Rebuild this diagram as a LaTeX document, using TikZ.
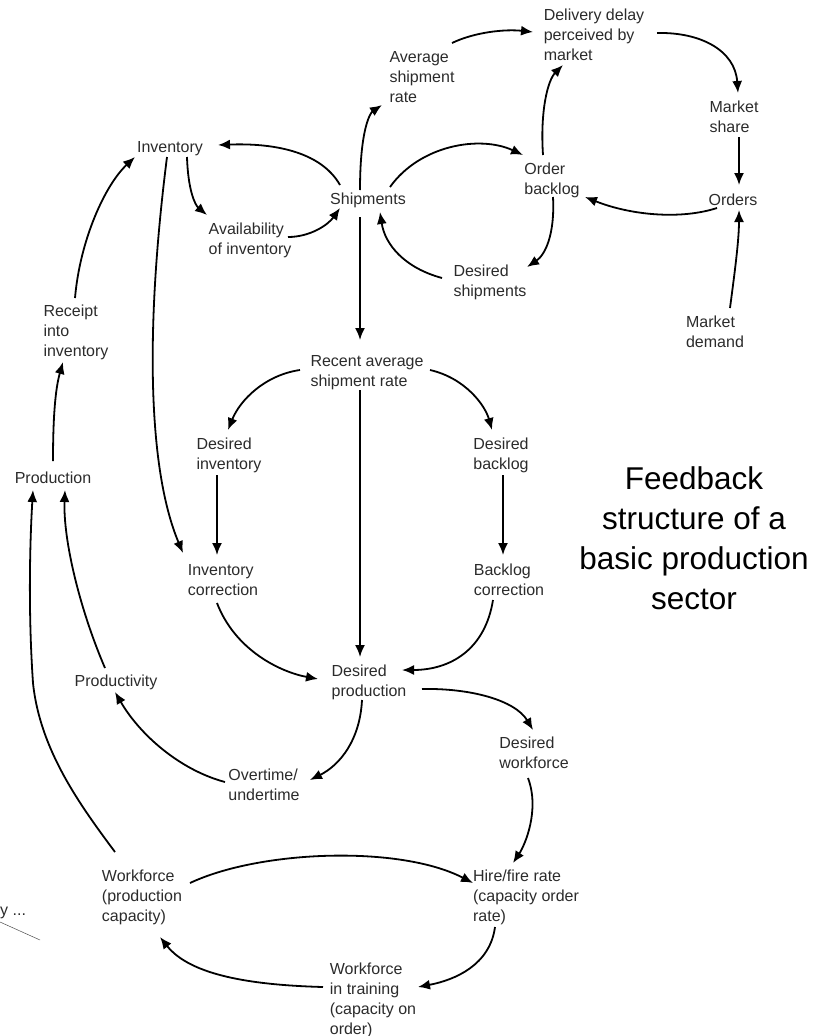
\documentclass[tikz,border=0pt]{standalone}
\usepackage{fontspec}
\setmainfont{Liberation Sans}
\usetikzlibrary{arrows.meta,calc}
\definecolor{txt}{HTML}{2B2B2B}
\begin{document}
\begin{tikzpicture}[x=1pt,y=-1pt,
  lab/.style={inner sep=0pt,align=left,text=txt,font=\fontsize{16}{20}\selectfont},
  con/.style={line width=1.8pt,-{Latex[length=12pt,width=10pt]}},
  thin/.style={line width=0.5pt,draw=black!70}]
\useasboundingbox (0,0) rectangle (823,1036);
% nodes
\node[lab] (dd) at (594,35) {Delivery delay\\perceived by\\market};
\node[lab] (asr) at (422,77) {Average\\shipment\\rate};
\node[lab] (ms) at (734,117) {Market\\share};
\node[lab] (ord) at (733,200) {Orders};
\node[lab] (ob) at (552,180) {Order\\backlog};
\node[lab] (sh) at (368,200) {Shipments};
\node[lab] (inv) at (170,149) {Inventory};
\node[lab] (av) at (250,240) {Availability\\of inventory};
\node[lab] (ds) at (490,282) {Desired\\shipments};
\node[lab] (md) at (715,332) {Market\\demand};
\node[lab] (rec) at (76,332) {Receipt\\into\\inventory};
\node[lab] (prod) at (53,478) {Production};
\node[lab] (rasr) at (367,373) {Recent average\\shipment rate};
\node[lab] (dinv) at (229,455) {Desired\\inventory};
\node[lab] (dbl) at (501,455) {Desired\\backlog};
\node[lab] (ic) at (223,580) {Inventory\\correction};
\node[lab] (bc) at (509,580) {Backlog\\correction};
\node[lab] (dp) at (369,682) {Desired\\production};
\node[lab] (pty) at (116,682) {Productivity};
\node[lab] (ot) at (264,785) {Overtime/\\undertime};
\node[lab] (dw) at (534,753) {Desired\\workforce};
\node[lab] (wf) at (142,897) {Workforce\\(production\\capacity)};
\node[lab] (hf) at (526,897) {Hire/fire rate\\(capacity order\\rate)};
\node[lab] (wt) at (373,1000) {Workforce\\in training\\(capacity on\\order)};
\node[inner sep=0pt,align=center,font=\fontsize{31.5}{40}\selectfont] (title) at (694,538) {Feedback\\structure of a\\basic production\\sector};
\node[lab,anchor=west] (cut) at (0,913) {y ...};
\coordinate (la) at (0,922);
\coordinate (lb) at (40,940);
\draw[thin] (la) -- (lb);
% connectors
\draw[con] ($(asr)+(30,-34)$) .. controls (475,32) and (505,29) .. ($(dd)+(-61,-3)$);
\draw[con] ($(sh)+(-8,-10)$) .. controls (360,130) and (370,113) .. ($(asr)+(-40,28)$);
\draw[con] ($(dd)+(63,-2)$) .. controls (700,32) and (735,50) .. ($(ms)+(4,-24)$);
\draw[con] ($(ms)+(5,20)$) -- ($(ord)+(6,-15)$);
\draw[con] ($(ob)+(-9,-25)$) .. controls (540,110) and (548,80) .. ($(dd)+(-31,30)$);
\draw[con] ($(ord)+(-16,8)$) .. controls (680,220) and (630,215) .. ($(ob)+(33,17)$);
\draw[con] ($(sh)+(22,-13)$) .. controls (420,145) and (480,135) .. ($(ob)+(-29,-25)$);
\draw[con] ($(ob)+(1,17)$) .. controls (555,235) and (545,255) .. ($(ds)+(37,-15)$);
\draw[con] ($(ds)+(-48,-4)$) .. controls (405,268) and (385,245) .. ($(sh)+(12,12)$);
\draw[con] ($(md)+(15,-24)$) .. controls (735,270) and (739,240) .. ($(ord)+(6,10)$);
\draw[con] ($(sh)+(-28,-15)$) .. controls (320,150) and (270,143) .. ($(inv)+(48,-4)$);
\draw[con] ($(inv)+(17,8)$) .. controls (188,190) and (195,205) .. ($(av)+(-43,-25)$);
\draw[con] ($(av)+(38,-3)$) .. controls (310,237) and (328,225) .. ($(sh)+(-28,8)$);
\draw[con] ($(inv)+(-3,8)$) .. controls (145,330) and (148,470) .. ($(ic)+(-40,-27)$);
\draw[con] ($(rec)+(-1,-34)$) .. controls (80,240) and (105,185) .. ($(inv)+(-35,8)$);
\draw[con] ($(prod)+(0,-17)$) .. controls (53,420) and (55,390) .. ($(rec)+(-13,30)$);
\draw[con] ($(sh)+(-8,17)$) -- ($(rasr)+(-7,-33)$);
\draw[con] ($(rasr)+(-67,-3)$) .. controls (265,375) and (240,400) .. ($(dinv)+(-1,-25)$);
\draw[con] ($(rasr)+(63,-3)$) .. controls (465,378) and (485,405) .. ($(dbl)+(-9,-25)$);
\draw[con] ($(dinv)+(-12,20)$) -- ($(ic)+(-6,-25)$);
\draw[con] ($(dbl)+(2,20)$) -- ($(bc)+(-6,-25)$);
\draw[con] ($(rasr)+(-7,17)$) -- ($(dp)+(-9,-25)$);
\draw[con] ($(ic)+(-6,23)$) .. controls (235,650) and (280,672) .. ($(dp)+(-51,-3)$);
\draw[con] ($(bc)+(-16,20)$) .. controls (485,650) and (450,670) .. ($(dp)+(33,-12)$);
\draw[con] ($(dp)+(-7,18)$) .. controls (360,740) and (340,765) .. ($(ot)+(46,-5)$);
\draw[con] ($(dp)+(53,7)$) .. controls (470,688) and (515,700) .. ($(dw)+(-1,-23)$);
\draw[con] ($(ot)+(-39,-3)$) .. controls (180,770) and (140,735) .. ($(pty)+(-1,10)$);
\draw[con] ($(pty)+(-11,-14)$) .. controls (80,610) and (63,540) .. ($(prod)+(12,12)$);
\draw[con] ($(wf)+(-27,-45)$) .. controls (80,805) and (40,750) .. (33,683) .. controls (28,610) and (30,540) .. ($(prod)+(-20,12)$);
\draw[con] ($(dw)+(-6,25)$) .. controls (540,810) and (525,845) .. ($(hf)+(-13,-34)$);
\draw[con] ($(wf)+(48,-14)$) .. controls (260,850) and (400,845) .. ($(hf)+(-53,-14)$);
\draw[con] ($(hf)+(-31,30)$) .. controls (490,965) and (455,980) .. ($(wt)+(45,-13)$);
\draw[con] ($(wt)+(-50,-13)$) .. controls (250,985) and (190,975) .. ($(wf)+(18,40)$);
\end{tikzpicture}
\end{document}
